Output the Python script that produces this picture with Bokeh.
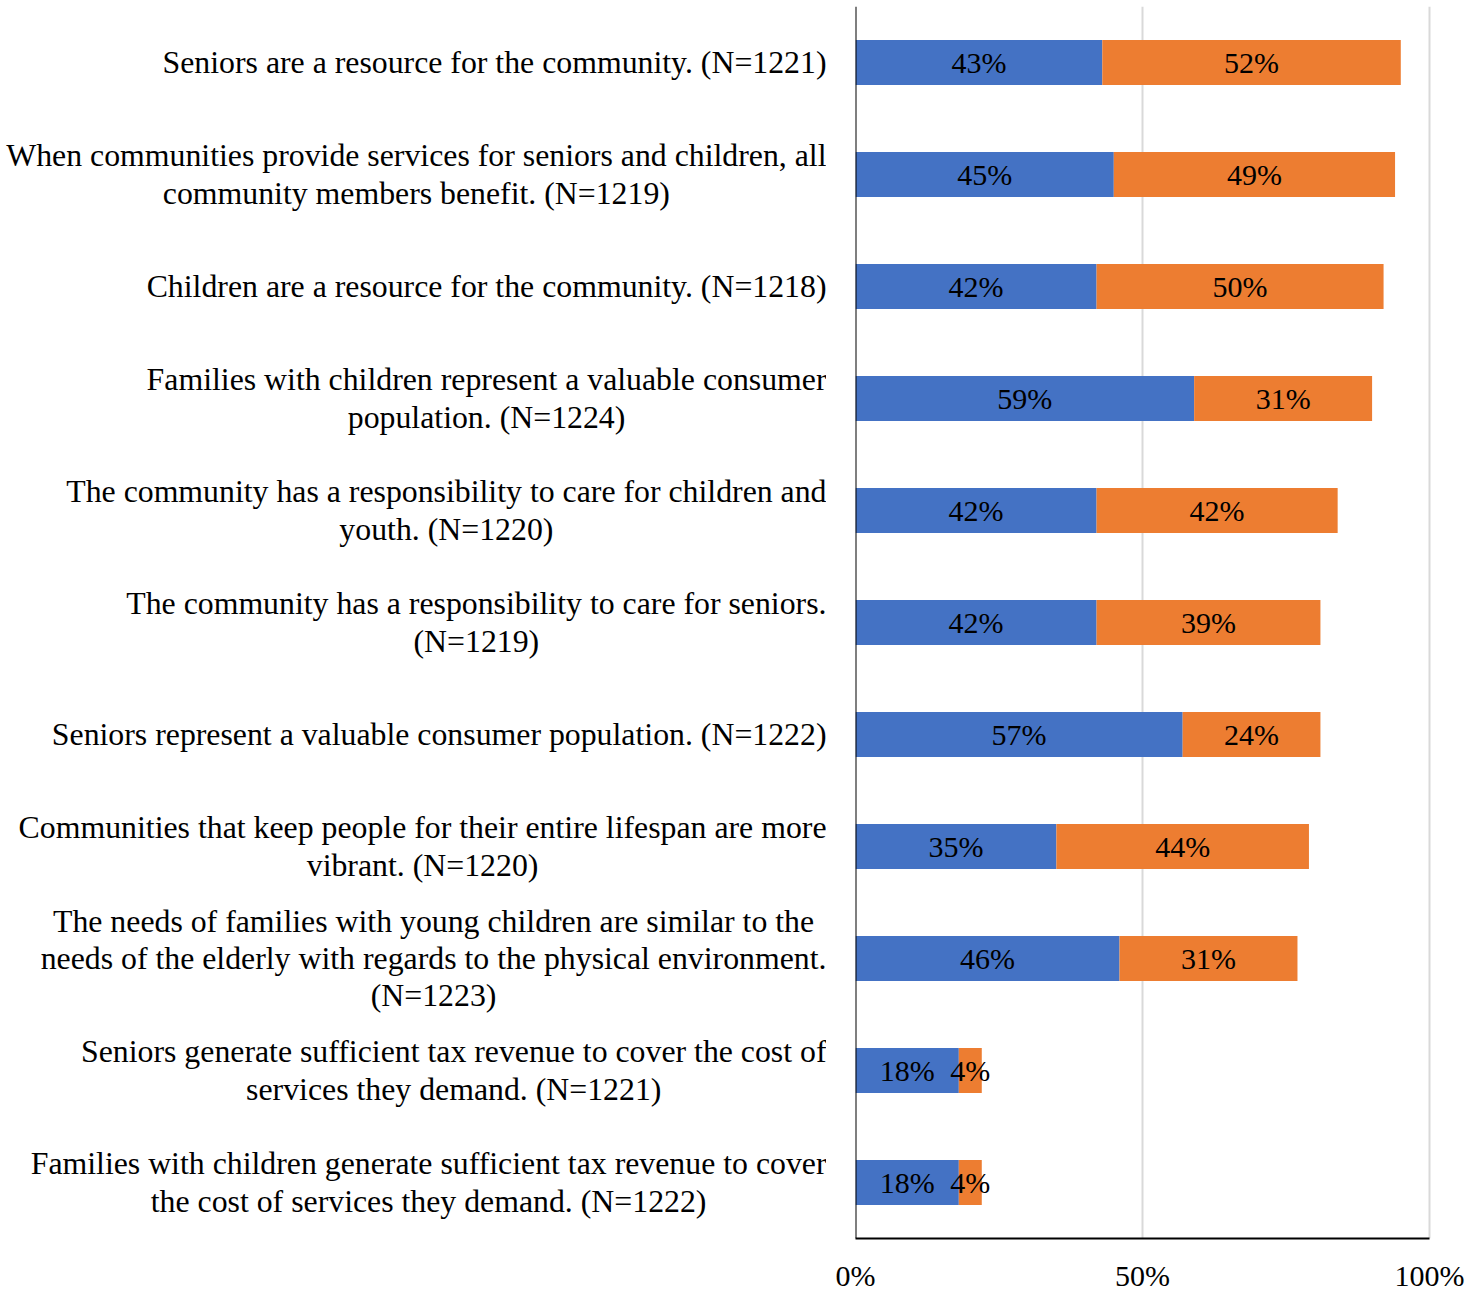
from bokeh.plotting import figure
from bokeh.models import (ColumnDataSource, FactorRange, Range1d, FixedTicker,
                          PrintfTickFormatter, Span)
from bokeh.layouts import row
from bokeh.embed import file_html
from bokeh.resources import INLINE
from bokeh.core.properties import value

# ---------------- data ----------------
statements = [
    "Seniors are a resource for the community. (N=1221)",
    "When communities provide services for seniors and children, all\ncommunity members benefit. (N=1219)",
    "Children are a resource for the community. (N=1218)",
    "Families with children represent a valuable consumer\npopulation. (N=1224)",
    "The community has a responsibility to care for children and\nyouth. (N=1220)",
    "The community has a responsibility to care for seniors.\n(N=1219)",
    "Seniors represent a valuable consumer population. (N=1222)",
    "Communities that keep people for their entire lifespan are more\nvibrant. (N=1220)",
    "The needs of families with young children are similar to the\nneeds of the elderly with regards to the physical environment.\n(N=1223)",
    "Seniors generate sufficient tax revenue to cover the cost of\nservices they demand. (N=1221)",
    "Families with children generate sufficient tax revenue to cover\nthe cost of services they demand. (N=1222)",
]
strongly_agree = [43, 45, 42, 59, 42, 42, 57, 35, 46, 18, 18]
agree = [52, 49, 50, 31, 42, 39, 24, 44, 31, 4, 4]
x_ticks = [0, 50, 100]

# ---------------- style ----------------
FONT = "Liberation Serif"
BLUE = "#4472C4"
ORANGE = "#ED7D31"
GRID = "#D9D9D9"

src = ColumnDataSource(dict(
    cat=statements,
    sa=strongly_agree,
    ag=agree,
    sa_mid=[s / 2 for s in strongly_agree],
    ag_mid=[s + a / 2 for s, a in zip(strongly_agree, agree)],
    sa_lbl=[f"{s}%" for s in strongly_agree],
    ag_lbl=[f"{a}%" for a in agree],
))

y_range = FactorRange(factors=list(reversed(statements)))

# ---------- left panel: category labels ----------
left = figure(frame_width=826, frame_height=1232, x_range=Range1d(0, 1), y_range=y_range,
              output_backend="svg", toolbar_location=None,
              x_axis_location=None, y_axis_location=None,
              min_border_left=0, min_border_right=0, min_border_top=6, min_border_bottom=48)
left.outline_line_color = None
left.xgrid.visible = False
left.ygrid.visible = False
left.text(x=1, y="cat", text="cat", source=src,
          text_font=value(FONT), text_font_size="31.8px", text_color="black",
          text_align="center", text_baseline="middle", anchor="center_right",
          text_line_height=1.06)

# ---------- right panel: stacked bars ----------
p = figure(frame_width=576, frame_height=1232, x_range=Range1d(0, 100.35), y_range=y_range,
           output_backend="svg", toolbar_location=None, y_axis_location=None,
           min_border_left=29, min_border_right=40, min_border_top=6, min_border_bottom=48)
p.outline_line_color = None
p.ygrid.visible = False
p.xgrid.ticker = FixedTicker(ticks=x_ticks)
p.xgrid.grid_line_color = GRID
p.xgrid.grid_line_width = 2

p.hbar_stack(["sa", "ag"], y="cat", height=0.4, color=[BLUE, ORANGE],
             line_color=None, source=src)

for xcol, tcol in (("sa_mid", "sa_lbl"), ("ag_mid", "ag_lbl")):
    p.text(x=xcol, y="cat", text=tcol, source=src,
           text_font=value(FONT), text_font_size="30px", text_color="black",
           text_align="center", text_baseline="middle")

p.add_layout(Span(location=0, dimension="height", line_color="black", line_width=2))

xa = p.xaxis[0]
xa.ticker = FixedTicker(ticks=x_ticks)
xa.formatter = PrintfTickFormatter(format="%d%%")
xa.bounds = (0, 100)
xa.axis_line_color = "black"
xa.axis_line_width = 2
xa.major_tick_line_color = None
xa.minor_tick_line_color = None
xa.major_tick_out = 0
xa.major_tick_in = 0
xa.major_label_standoff = 20
xa.major_label_text_font = FONT
xa.major_label_text_font_size = "30px"
xa.major_label_text_color = "black"

layout = row(left, p)
open("out.html", "w").write(file_html(layout, INLINE))
